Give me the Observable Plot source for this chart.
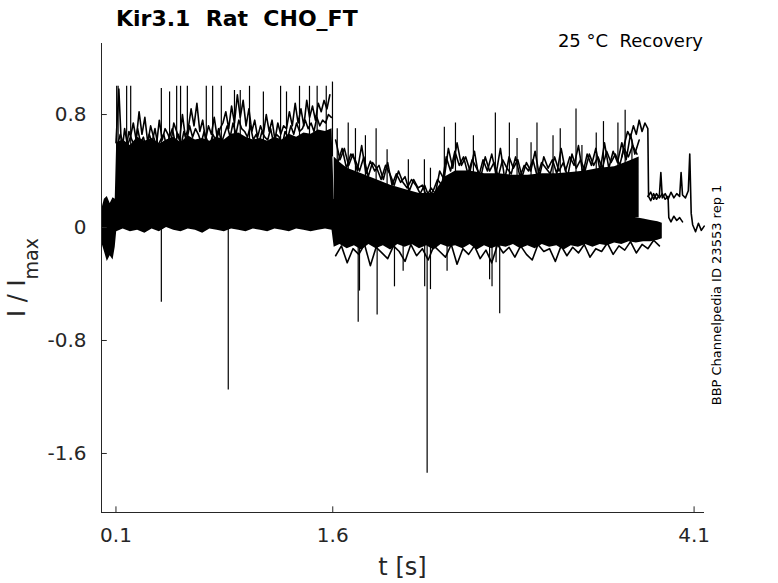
<!DOCTYPE html>
<html><head><meta charset="utf-8">
<script src="https://cdn.jsdelivr.net/npm/d3@7"></script>
<script src="https://cdn.jsdelivr.net/npm/@observablehq/plot@0.6"></script>
<style>
body{margin:0;background:#fff;}
svg text{white-space:pre;}
</style></head><body><div id="chart"></div>
<script>
// ---- axis ticks ----
const xTicks = [0.1, 1.6, 4.1];
const yTicks = [0.8, 0, -0.8, -1.6];

// ---- dense band of overlapping sweeps (lower / upper envelope) ----
const bandT = [0.00,0.02,0.04,0.06,0.08,0.095,
  0.105,0.15,0.20,0.25,0.30,0.35,0.40,0.45,0.50,0.55,0.60,0.65,0.70,0.75,0.80,0.85,0.90,0.95,1.00,1.05,1.10,1.15,1.20,1.25,1.30,1.35,1.40,1.45,1.50,1.55,1.595,
  1.61,1.65,1.70,1.75,1.80,1.85,1.90,1.95,2.00,2.05,2.10,2.15,2.20,2.25,2.30,2.35,2.40,2.45,2.50,2.55,2.60,2.65,2.70,2.75,2.80,2.85,2.90,2.95,3.00,3.05,3.10,3.15,3.20,3.25,3.30,3.35,3.40,3.45,3.50,3.55,3.60,3.65,3.70,3.75,3.80,3.85,3.88];
const bandLo = [-0.10,-0.17,-0.24,-0.20,-0.23,-0.14,
  -0.03,-0.01,-0.03,-0.02,-0.04,-0.01,-0.03,0.00,-0.02,-0.03,-0.01,-0.02,-0.04,-0.01,-0.02,-0.03,-0.01,-0.02,-0.03,-0.01,-0.02,-0.03,-0.01,-0.02,-0.03,-0.01,-0.02,-0.03,-0.02,-0.01,-0.02,
  -0.14,-0.12,-0.15,-0.13,-0.16,-0.12,-0.15,-0.13,-0.16,-0.12,-0.14,-0.12,-0.15,-0.13,-0.16,-0.12,-0.14,-0.13,-0.15,-0.12,-0.16,-0.13,-0.15,-0.13,-0.14,-0.12,-0.15,-0.13,-0.15,-0.12,-0.14,-0.13,-0.16,-0.13,-0.14,-0.12,-0.14,-0.12,-0.13,-0.11,-0.12,-0.10,-0.11,-0.10,-0.10,-0.09,-0.08];
const bandHi = [0.12,0.20,0.22,0.17,0.21,0.20,
  0.60,0.62,0.58,0.64,0.61,0.63,0.59,0.62,0.64,0.60,0.65,0.62,0.63,0.61,0.64,0.62,0.66,0.67,0.64,0.62,0.63,0.61,0.64,0.62,0.66,0.64,0.67,0.66,0.69,0.68,0.70,
  0.20,0.15,0.14,0.14,0.13,0.13,0.12,0.13,0.12,0.12,0.12,0.13,0.12,0.12,0.13,0.12,0.13,0.12,0.12,0.12,0.12,0.13,0.12,0.12,0.12,0.12,0.12,0.12,0.12,0.12,0.12,0.11,0.11,0.11,0.11,0.10,0.11,0.10,0.10,0.09,0.08,0.08,0.07,0.06,0.05,0.04,0.03];

// ---- noisy top of the activated sweeps (0.1 s – 1.6 s) ----
const topT = [0.10,0.12,0.14,0.16,0.18,0.20,0.22,0.24,0.26,0.28,0.30,0.32,0.34,0.36,0.38,0.40,0.42,0.44,0.46,0.48,0.50,0.52,0.54,0.56,0.58,0.60,0.62,0.64,0.66,0.68,0.70,0.72,0.74,0.76,0.78,0.80,0.82,0.84,0.86,0.88,0.90,0.92,0.94,0.96,0.98,1.00,1.02,1.04,1.06,1.08,1.10,1.12,1.14,1.16,1.18,1.20,1.22,1.24,1.26,1.28,1.30,1.32,1.34,1.36,1.38,1.40,1.42,1.44,1.46,1.48,1.50,1.52,1.54,1.56,1.58];
const topV = [0.60,0.98,0.52,0.70,0.58,0.64,0.74,0.62,0.82,0.66,0.78,0.60,0.72,0.64,0.58,0.76,0.62,0.70,0.66,0.60,0.74,0.68,0.62,0.80,0.64,0.70,0.84,0.72,0.88,0.68,0.76,0.62,0.72,0.66,0.78,0.64,0.70,0.74,0.82,0.70,0.86,0.74,0.94,0.78,0.90,0.72,0.84,0.68,0.76,0.64,0.72,0.66,0.80,0.68,0.76,0.62,0.74,0.66,0.72,0.70,0.82,0.72,0.88,0.74,0.84,0.72,0.90,0.78,0.86,0.76,0.88,0.82,0.90,0.84,0.94];
const midT = [0.11,0.13,0.15,0.17,0.19,0.21,0.23,0.25,0.27,0.29,0.31,0.33,0.35,0.37,0.39,0.41,0.43,0.45,0.47,0.49,0.51,0.53,0.55,0.57,0.59,0.61,0.63,0.65,0.67,0.69,0.71,0.73,0.75,0.77,0.79,0.81,0.83,0.85,0.87,0.89,0.91,0.93,0.95,0.97,0.99,1.01,1.03,1.05,1.07,1.09,1.11,1.13,1.15,1.17,1.19,1.21,1.23,1.25,1.27,1.29,1.31,1.33,1.35,1.37,1.39,1.41,1.43,1.45,1.47,1.49,1.51,1.53,1.55,1.57,1.59];
const midV = [0.58,0.66,0.60,0.56,0.68,0.62,0.58,0.70,0.60,0.64,0.56,0.66,0.60,0.70,0.58,0.62,0.66,0.58,0.64,0.70,0.60,0.66,0.58,0.68,0.62,0.72,0.64,0.70,0.66,0.60,0.68,0.62,0.58,0.66,0.62,0.70,0.60,0.66,0.72,0.64,0.74,0.66,0.76,0.70,0.68,0.64,0.72,0.62,0.66,0.60,0.68,0.64,0.62,0.70,0.60,0.66,0.64,0.58,0.68,0.64,0.72,0.66,0.74,0.68,0.70,0.76,0.70,0.74,0.68,0.78,0.72,0.76,0.74,0.80,0.78];

// ---- recovering sweeps cloud (1.6 s – 3.7 s) ----
const cloudT = [1.61,1.65,1.70,1.80,1.90,2.00,2.10,2.20,2.30,2.38,2.45,2.55,2.65,2.75,2.85,2.95,3.05,3.15,3.25,3.35,3.45,3.55,3.65,3.72];
const cloudLo = [0.08,0.08,0.08,0.08,0.08,0.08,0.08,0.08,0.08,0.08,0.08,0.08,0.08,0.08,0.08,0.08,0.08,0.08,0.08,0.08,0.08,0.08,0.07,0.07];
const cloudHi = [0.50,0.46,0.42,0.38,0.34,0.30,0.27,0.24,0.24,0.36,0.40,0.40,0.38,0.38,0.37,0.37,0.38,0.38,0.39,0.40,0.42,0.43,0.47,0.50];
const cloudTopT = [1.62,1.65,1.68,1.71,1.74,1.77,1.80,1.83,1.86,1.89,1.92,1.95,1.98,2.01,2.04,2.07,2.10,2.13,2.16,2.19,2.22,2.25,2.28,2.31,2.34,2.37,2.40,2.43,2.46,2.49,2.52,2.55,2.58,2.61,2.64,2.67,2.70,2.73,2.76,2.79,2.82,2.85,2.88,2.91,2.94,2.97,3.00,3.03,3.06,3.09,3.12,3.15,3.18,3.21,3.24,3.27,3.30,3.33,3.36,3.39,3.42,3.45,3.48,3.51,3.54,3.57,3.60,3.63,3.66,3.69,3.72];
const cloudTopV = [0.62,0.48,0.56,0.44,0.52,0.40,0.58,0.38,0.47,0.40,0.44,0.34,0.46,0.30,0.38,0.32,0.36,0.26,0.34,0.28,0.30,0.22,0.28,0.24,0.40,0.34,0.56,0.42,0.60,0.44,0.50,0.40,0.54,0.36,0.48,0.40,0.52,0.38,0.56,0.34,0.50,0.42,0.48,0.36,0.46,0.40,0.54,0.36,0.50,0.42,0.48,0.38,0.56,0.40,0.50,0.44,0.58,0.38,0.52,0.44,0.56,0.40,0.60,0.42,0.54,0.46,0.60,0.48,0.66,0.52,0.62];
const cloud2T = [1.635,1.665,1.695,1.725,1.755,1.785,1.815,1.845,1.875,1.905,1.935,1.965,1.995,2.025,2.055,2.085,2.115,2.145,2.175,2.205,2.235,2.265,2.295,2.325,2.355,2.385,2.415,2.445,2.475,2.505,2.535,2.565,2.595,2.625,2.655,2.685,2.715,2.745,2.775,2.805,2.835,2.865,2.895,2.925,2.955,2.985,3.015,3.045,3.075,3.105,3.135,3.165,3.195,3.225,3.255,3.285,3.315,3.345,3.375,3.405,3.435,3.465,3.495,3.525,3.555,3.585,3.615,3.645,3.675,3.705];
const cloud2V = [0.46,0.56,0.42,0.52,0.48,0.40,0.50,0.36,0.46,0.42,0.34,0.44,0.38,0.30,0.40,0.32,0.28,0.34,0.30,0.24,0.30,0.22,0.26,0.34,0.30,0.50,0.40,0.54,0.44,0.50,0.38,0.48,0.42,0.36,0.50,0.40,0.46,0.36,0.48,0.42,0.38,0.50,0.36,0.44,0.40,0.48,0.36,0.46,0.42,0.38,0.50,0.40,0.46,0.36,0.52,0.42,0.48,0.40,0.52,0.44,0.50,0.42,0.54,0.46,0.52,0.44,0.56,0.50,0.58,0.52];

// ---- ragged lower edge after 1.6 s ----
const lowT = [1.62,1.66,1.70,1.74,1.78,1.82,1.86,1.90,1.94,1.98,2.02,2.06,2.10,2.14,2.18,2.22,2.26,2.30,2.34,2.38,2.42,2.46,2.50,2.54,2.58,2.62,2.66,2.70,2.74,2.78,2.82,2.86,2.90,2.94,2.98,3.02,3.06,3.10,3.14,3.18,3.22,3.26,3.30,3.34,3.38,3.42,3.46,3.50,3.54,3.58,3.62,3.66,3.70,3.74,3.78,3.82,3.86];
const lowV = [-0.20,-0.13,-0.25,-0.15,-0.19,-0.12,-0.27,-0.14,-0.18,-0.22,-0.13,-0.17,-0.24,-0.12,-0.20,-0.15,-0.23,-0.13,-0.17,-0.21,-0.12,-0.26,-0.15,-0.19,-0.13,-0.22,-0.16,-0.25,-0.12,-0.18,-0.14,-0.21,-0.13,-0.19,-0.23,-0.12,-0.17,-0.15,-0.24,-0.13,-0.20,-0.14,-0.18,-0.12,-0.21,-0.15,-0.17,-0.11,-0.19,-0.13,-0.16,-0.10,-0.18,-0.12,-0.15,-0.09,-0.13];

// ---- late single sweeps ----
const tailAT = [3.60,3.62,3.64,3.66,3.68,3.70,3.72,3.74,3.76,3.78,3.785,3.80,3.82,3.84,3.86,3.87,3.88,3.90,3.92,3.94,3.96,3.98,4.00,4.01,4.02,4.04,4.06,4.07,4.08,4.09,4.11,4.13,4.15,4.17];
const tailAV = [0.50,0.60,0.68,0.64,0.72,0.66,0.76,0.68,0.74,0.70,0.22,0.19,0.24,0.20,0.23,0.39,0.21,0.24,0.20,0.25,0.21,0.24,0.22,0.39,0.23,0.21,0.26,0.52,0.10,0.02,-0.03,0.03,-0.02,0.01];
const tailBT = [3.78,3.80,3.82,3.84,3.86,3.88,3.90,3.92,3.925,3.94,3.96,3.98,4.00,4.02];
const tailBV = [0.22,0.25,0.20,0.24,0.21,0.24,0.20,0.22,0.07,0.04,0.08,0.05,0.07,0.04];

// ---- upward transients ----
const upT    = [0.105,0.115,0.174,0.202,0.414,0.471,0.520,0.547,0.594,0.725,0.769,0.829,0.92,0.96,1.024,1.12,1.239,1.28,1.370,1.439,1.492,1.555,1.598,
  1.631,1.707,1.757,1.826,1.900,1.976,2.123,2.234,2.276,2.372,2.449,2.573,2.725,2.822,2.875,2.972,3.013,3.124,3.174,3.283,3.324,3.423,3.473,3.573,3.623,3.670];
const upPeak = [1.00,1.00,1.00,1.00,0.985,0.96,1.00,1.00,1.00,1.00,1.00,1.00,0.97,0.97,1.00,0.96,1.00,0.96,1.00,1.00,1.00,1.00,1.03,
  0.70,0.74,0.70,0.65,0.70,0.55,0.48,0.48,0.42,0.71,0.74,0.65,0.81,0.74,0.63,0.60,0.74,0.65,0.70,0.84,0.58,0.67,0.75,0.74,0.83,0.62];
const upBase = [0.5,0.5,0.5,0.5,0.5,0.5,0.5,0.5,0.5,0.5,0.5,0.5,0.5,0.5,0.5,0.5,0.5,0.5,0.5,0.5,0.5,0.5,0.5,
  0.3,0.3,0.3,0.3,0.3,0.3,0.2,0.2,0.2,0.3,0.3,0.3,0.3,0.3,0.3,0.3,0.3,0.3,0.3,0.3,0.3,0.3,0.3,0.3,0.3,0.3];

// ---- downward transients ----
const downT = [0.414,0.877,1.776,1.785,1.907,2.027,2.087,2.236,2.253,2.276,2.391,2.685,2.702,2.730,2.755];
const downV = [-0.53,-1.15,-0.67,-0.45,-0.62,-0.42,-0.31,-0.42,-1.74,-0.44,-0.31,-0.37,-0.42,-0.25,-0.61];

(function () {
const ink = "#262626";
const pair = (T, V) => T.map((t, i) => ({t, v: V[i]}));
const band = bandT.map((t, i) => ({t, lo: bandLo[i], hi: bandHi[i]}));
const cloud = cloudT.map((t, i) => ({t, lo: cloudLo[i], hi: cloudHi[i]}));
const ups = upT.map((t, i) => ({t, peak: upPeak[i], base: upBase[i]}));
const downs = pair(downT, downV);
const lineOpts = {x: "t", y: "v", stroke: "black", strokeWidth: 1.6};

const xDom = [0, 4.172], yDom = [-2.018, 1.303];

const svg = Plot.plot({
  width: 778, height: 583,
  marginLeft: 101, marginRight: 74, marginTop: 43, marginBottom: 71,
  style: {fontFamily: "DejaVu Sans", fontSize: "20px", color: ink, background: "#fff"},
  x: {domain: xDom},
  y: {domain: yDom},
  marks: [
    Plot.areaY(band, {x: "t", y1: "lo", y2: "hi", fill: "black"}),
    Plot.areaY(cloud, {x: "t", y1: "lo", y2: "hi", fill: "black"}),
    Plot.line(pair(topT, topV), lineOpts),
    Plot.line(pair(midT, midV), lineOpts),
    Plot.line(pair(cloudTopT, cloudTopV), lineOpts),
    Plot.line(pair(cloud2T, cloud2V), lineOpts),
    Plot.line(pair(lowT, lowV), lineOpts),
    Plot.line(pair(tailAT, tailAV), lineOpts),
    Plot.line(pair(tailBT, tailBV), lineOpts),
    Plot.ruleX(ups, {x: "t", y1: "base", y2: "peak", stroke: "black", strokeWidth: 1.2}),
    Plot.ruleX(downs, {x: "t", y1: 0, y2: "v", stroke: "black", strokeWidth: 1.2}),
    Plot.ruleX([xDom[0]], {stroke: ink, strokeWidth: 1}),
    Plot.ruleY([yDom[0]], {stroke: ink, strokeWidth: 1}),
    Plot.ruleY(yTicks, {y: d => d, x1: 0, x2: 0.04, stroke: ink}),
    Plot.ruleX(xTicks, {x: d => d, y1: yDom[0], y2: yDom[0] + 0.04, stroke: ink}),
    Plot.axisX(xTicks, {tickSize: 0, tickPadding: 15, label: null, tickFormat: d => d.toFixed(1), fill: ink, fontSize: 20}),
    Plot.axisY(yTicks, {tickSize: 0, tickPadding: 15, label: null, tickFormat: d => String(d), fill: ink, fontSize: 20})
  ]
});
document.getElementById("chart").appendChild(svg);

const s = d3.select(svg);
s.append("text").attr("x", 116).attr("y", 26).attr("text-anchor", "start")
  .attr("font-family", "DejaVu Sans").attr("font-weight", "bold").attr("font-size", 22).attr("fill", "black")
  .text("Kir3.1  Rat  CHO_FT");
s.append("text").attr("x", 703).attr("y", 47).attr("text-anchor", "end")
  .attr("font-family", "DejaVu Sans").attr("font-size", 18).attr("fill", "black")
  .text("25 °C  Recovery");
s.append("text").attr("x", 402.5).attr("y", 575).attr("text-anchor", "middle")
  .attr("font-family", "DejaVu Sans").attr("font-size", 24).attr("fill", ink)
  .text("t [s]");
const yl = s.append("text").attr("transform", "translate(25,277.5) rotate(-90)").attr("text-anchor", "middle")
  .attr("font-family", "DejaVu Sans").attr("font-size", 24).attr("fill", ink);
yl.append("tspan").text("I / I");
yl.append("tspan").attr("font-size", 19).attr("dy", 13).text("max");
s.append("text").attr("transform", "translate(720.5,295) rotate(-90)").attr("text-anchor", "middle")
  .attr("font-family", "DejaVu Sans").attr("font-size", 13).attr("fill", "black")
  .text("BBP Channelpedia ID 23553 rep 1");
})();
</script></body></html>
